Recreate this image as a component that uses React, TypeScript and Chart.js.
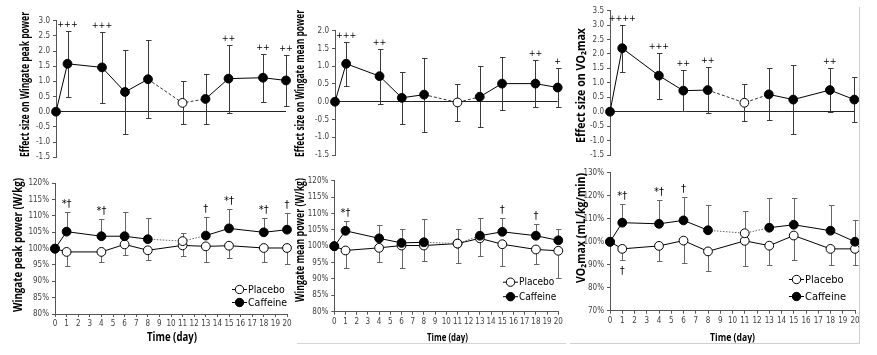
import React, { useEffect, useRef } from "react";
import { Chart, registerables } from "chart.js";

Chart.register(...registerables);

const FONT = "'DejaVu Sans Condensed', 'Liberation Sans Narrow', Lato, sans-serif";
const TITLE_FONT = "'Open Sans', 'DejaVu Sans', sans-serif";

// ---------- data ----------
const days = [0, 1, 4, 6, 8, 11, 13, 15, 18, 20];
const OPEN_DAY = 11;

// Effect sizes
const esPeakPower = [0, 1.58, 1.46, 0.65, 1.07, 0.29, 0.42, 1.09, 1.12, 1.03];
const esPeakPowerErr = [0, 1.08, 1.17, 1.38, 1.29, 0.71, 0.81, 1.12, 0.79, 0.85];
const esPeakPowerSig = ["", "+++", "+++", "", "", "", "", "++", "++", "++"];

const esMeanPower = [0, 1.07, 0.72, 0.11, 0.2, -0.02, 0.14, 0.51, 0.51, 0.4];
const esMeanPowerErr = [0, 0.62, 0.77, 0.73, 1.04, 0.53, 0.86, 0.74, 0.66, 0.56];
const esMeanPowerSig = ["", "+++", "++", "", "", "", "", "", "++", "+"];

const esVO2max = [0, 2.2, 1.25, 0.73, 0.75, 0.31, 0.6, 0.42, 0.75, 0.42];
const esVO2maxErr = [0, 0.82, 0.8, 0.71, 0.8, 0.64, 0.9, 1.2, 0.77, 0.79];
const esVO2maxSig = ["", "++++", "+++", "++", "++", "", "", "", "++", ""];

// Relative values (% of day 0)
const peakCaffeine = [100, 105.2, 103.8, 103.8, 102.9, 102.3, 104.0, 106.2, 105.0, 105.8];
const peakCaffeineSD = [0, 6.1, 5.3, 7.5, 6.4, 2.4, 5.6, 5.9, 4.3, 5.2];
const peakPlacebo = [100, 99.0, 99.0, 101.3, 99.5, 101.0, 100.7, 100.9, 100.2, 100.2];
const peakPlaceboSD = [0, 4.3, 3.0, 3.3, 3.0, 3.1, 4.7, 3.7, 4.2, 5.0];
const peakSig = ["", "*\u2020", "*\u2020", "", "", "", "\u2020", "*\u2020", "*\u2020", "\u2020"];

const meanCaffeine = [100, 104.7, 102.4, 101.0, 101.2, 100.8, 103.2, 104.4, 103.2, 101.8];
const meanCaffeineSD = [0, 3.1, 4.1, 4.4, 7.0, 4.3, 5.3, 4.3, 3.5, 3.6];
const meanPlacebo = [100, 98.7, 99.5, 100.2, 100.2, 100.8, 102.4, 100.6, 99.0, 98.6];
const meanPlaceboSD = [0, 5.3, 4.2, 7.0, 4.6, 6.0, 5.3, 6.7, 4.3, 8.3];
const meanSig = ["", "*\u2020", "", "", "", "", "", "\u2020", "\u2020", ""];

const vo2Caffeine = [100, 108.3, 107.8, 109.3, 105.0, 103.7, 106.1, 107.4, 104.8, 100.0];
const vo2CaffeineSD = [0, 8.3, 10.4, 10.3, 10.9, 9.8, 12.8, 11.8, 11.1, 9.6];
const vo2Placebo = [100, 96.9, 98.2, 100.5, 95.8, 100.4, 98.3, 102.7, 96.9, 96.9];
const vo2PlaceboSD = [0, 4.9, 6.6, 9.6, 8.7, 11.0, 8.3, 10.7, 6.9, 6.9];
const vo2SigAbove = ["", "*\u2020", "*\u2020", "\u2020", "", "", "", "", "", ""];
const vo2SigBelow = ["", "\u2020", "", "", "", "", "", "", "", ""];

const legendLabels = ["Placebo", "Caffeine"];
const xTitleText = "Time (day)";

// ---------- plugins ----------
const errorBars = {
  id: "errorBars",
  beforeDatasetsDraw(chart: any) {
    const { ctx } = chart;
    const xs = chart.scales.x;
    const ys = chart.scales.y;
    ctx.save();
    ctx.lineWidth = 1;
    chart.data.datasets.forEach((ds: any) => {
      if (!ds.errors) return;
      ctx.strokeStyle = ds.errColor || "#444";
      ds.data.forEach((p: any, i: number) => {
        const e = ds.errors[i];
        if (!e) return;
        const px = Math.round(xs.getPixelForValue(p.x)) + 0.5;
        const up = ds.errDir !== "down";
        const dn = ds.errDir !== "up";
        const yTop = Math.round(ys.getPixelForValue(up ? p.y + e : p.y)) + 0.5;
        const yBot = Math.round(ys.getPixelForValue(dn ? p.y - e : p.y)) + 0.5;
        ctx.beginPath();
        ctx.moveTo(px, yTop);
        ctx.lineTo(px, yBot);
        if (up) {
          ctx.moveTo(px - 2.5, yTop);
          ctx.lineTo(px + 3, yTop);
        }
        if (dn) {
          ctx.moveTo(px - 2.5, yBot);
          ctx.lineTo(px + 3, yBot);
        }
        ctx.stroke();
      });
    });
    ctx.restore();
  },
  afterDatasetsDraw(chart: any) {
    const { ctx } = chart;
    const xs = chart.scales.x;
    const ys = chart.scales.y;
    ctx.save();
    ctx.fillStyle = "#000";
    ctx.textAlign = "center";
    ctx.textBaseline = "alphabetic";
    chart.data.datasets.forEach((ds: any) => {
      ctx.font = `${ds.sigSize || 10}px ${FONT}`;
      ds.data.forEach((p: any, i: number) => {
        const px = xs.getPixelForValue(p.x);
        const e = ds.errors ? ds.errors[i] : 0;
        if (ds.sigAbove && ds.sigAbove[i]) {
          const top = ys.getPixelForValue(ds.errDir === "down" ? p.y : p.y + e);
          ctx.fillText(ds.sigAbove[i], px, top - ds.sigGap);
        }
        if (ds.sigBelow && ds.sigBelow[i]) {
          const bot = ys.getPixelForValue(ds.errDir === "up" ? p.y : p.y - e);
          ctx.fillText(ds.sigBelow[i], px, bot + ds.sigBelowGap);
        }
      });
    });
    ctx.restore();
  },
};

const miniLegend = {
  id: "miniLegend",
  afterDraw(chart: any, _a: any, opts: any) {
    if (!opts || !opts.show) return;
    const { ctx } = chart;
    ctx.save();
    legendLabels.forEach((label, k) => {
      const y = opts.y + k * opts.gap;
      ctx.strokeStyle = "#000";
      ctx.lineWidth = 1;
      ctx.beginPath();
      ctx.moveTo(opts.x, y + 0.5);
      ctx.lineTo(opts.x + opts.len, y + 0.5);
      ctx.stroke();
      ctx.beginPath();
      ctx.arc(opts.x + opts.len / 2, y + 0.5, 4.2, 0, Math.PI * 2);
      ctx.fillStyle = k === 0 ? "#fff" : "#000";
      ctx.fill();
      ctx.stroke();
      ctx.fillStyle = "#000";
      ctx.font = `${opts.size}px ${FONT}`;
      ctx.textAlign = "left";
      ctx.textBaseline = "middle";
      ctx.fillText(label, opts.x + opts.len + 1, y + 1);
    });
    ctx.restore();
  },
};

// axis titles drawn rotated, squeezed to the reference length
const axisTitles = {
  id: "axisTitles",
  afterDraw(chart: any, _a: any, opts: any) {
    const { ctx } = chart;
    ctx.save();
    ctx.fillStyle = "#000";
    ctx.textAlign = "center";
    ctx.textBaseline = "middle";
    if (opts.yText) {
      ctx.save();
      ctx.translate(opts.yx, opts.yy);
      ctx.rotate(-Math.PI / 2);
      ctx.font = `bold ${opts.ySize}px ${TITLE_FONT}`;
      ctx.fillText(opts.yText, 0, 0, opts.yLen);
      ctx.restore();
    }
    if (opts.xText) {
      ctx.font = `bold ${opts.xSize}px ${TITLE_FONT}`;
      ctx.fillText(opts.xText, opts.xx, opts.xy, opts.xLen);
    }
    ctx.restore();
  },
};

// ---------- panel specs ----------
type Series = {
  label: string;
  values: number[];
  err: number[];
  errDir: "both" | "up" | "down";
  errColor: string;
  openAll?: boolean;
  dashed?: boolean;
  dash?: number[];
  dashColor?: string;
  sigAbove?: string[];
  sigBelow?: string[];
  sigSize?: number;
  sigGap?: number;
  sigBelowGap?: number;
  order: number;
};

type Spec = {
  left: number;
  top: number;
  width: number;
  height: number;
  kind: "es" | "pct";
  yMin: number;
  yMax: number;
  yStep: number;
  yAxisWidth: number;
  padTop: number;
  padRight: number;
  padBottom: number;
  xAxisHeight?: number;
  titles: any;
  legend?: { x: number; y: number; gap: number; len: number; size: number };
  series: Series[];
};

const isOpenSeg = (c: any) => days[c.p0DataIndex] === OPEN_DAY || days[c.p1DataIndex] === OPEN_DAY;

function buildConfig(spec: Spec): any {
  const datasets = spec.series.map((s) => ({
    label: s.label,
    data: days.map((d, i) => ({ x: d, y: s.values[i] })),
    borderColor: "#000",
    borderWidth: 1,
    pointRadius: 4.4,
    pointHoverRadius: 4.4,
    pointBorderWidth: 1,
    pointBorderColor: "#000",
    pointBackgroundColor: days.map((d) => (s.openAll || d === OPEN_DAY ? "#fff" : "#000")),
    order: s.order,
    clip: false,
    segment: {
      borderDash: (c: any) => (s.dashed && isOpenSeg(c) ? s.dash : undefined),
      borderColor: (c: any) => (s.dashed && isOpenSeg(c) ? s.dashColor : undefined),
    },
    errors: s.err,
    errDir: s.errDir,
    errColor: s.errColor,
    sigAbove: s.sigAbove,
    sigBelow: s.sigBelow,
    sigSize: s.sigSize,
    sigGap: s.sigGap,
    sigBelowGap: s.sigBelowGap,
  }));

  const isPct = spec.kind === "pct";
  return {
    type: "line",
    data: { datasets },
    plugins: [errorBars, miniLegend, axisTitles],
    options: {
      responsive: false,
      animation: false,
      events: [],
      layout: {
        padding: { top: spec.padTop, right: spec.padRight, bottom: spec.padBottom, left: 0 },
      },
      plugins: {
        legend: { display: false },
        tooltip: { enabled: false },
        miniLegend: spec.legend ? { show: true, ...spec.legend } : { show: false },
        axisTitles: spec.titles,
      },
      scales: {
        x: {
          type: "linear",
          min: 0,
          max: 20,
          display: isPct,
          afterFit: (s: any) => {
            if (spec.xAxisHeight) s.height = spec.xAxisHeight;
          },
          border: { display: true, color: "#555" },
          grid: { drawOnChartArea: false, color: "#555", tickLength: 3 },
          ticks: {
            stepSize: 1,
            autoSkip: false,
            maxRotation: 0,
            padding: 2,
            color: "#404040",
            font: { family: FONT, size: 8 },
          },
          title: { display: false },
        },
        y: {
          type: "linear",
          min: spec.yMin,
          max: spec.yMax,
          afterFit: (s: any) => {
            s.width = spec.yAxisWidth;
          },
          border: { display: true, color: "#555" },
          grid: {
            drawOnChartArea: !isPct,
            color: (c: any) => (!isPct && c.tick && c.tick.value === 0 ? "#222" : "rgba(0,0,0,0)"),
            tickColor: "#555",
            tickLength: 3,
          },
          ticks: {
            stepSize: spec.yStep,
            autoSkip: false,
            padding: 3,
            color: "#404040",
            font: { family: FONT, size: 8 },
            callback: (v: any) => (isPct ? `${Math.round(v)}%` : Number(v).toFixed(1)),
          },
          title: { display: false },
        },
      },
    },
  };
}

function esSeries(values: number[], err: number[], sig: string[]): Series[] {
  return [
    {
      label: "Effect size",
      values,
      err,
      errDir: "both",
      errColor: "#3a3a3a",
      dashed: true,
      dash: [3, 2],
      dashColor: "#333",
      sigAbove: sig,
      sigSize: 9,
      sigGap: 4,
      order: 0,
    },
  ];
}

function pctSeries(
  caf: number[],
  cafSD: number[],
  pla: number[],
  plaSD: number[],
  sigAbove: string[],
  sigBelow?: string[]
): Series[] {
  return [
    {
      label: "Caffeine",
      values: caf,
      err: cafSD,
      errDir: "up",
      errColor: "#666",
      dashed: true,
      dash: [1.5, 1.5],
      dashColor: "#666",
      sigAbove,
      sigSize: 11,
      sigGap: 5,
      order: 0,
    },
    {
      label: "Placebo",
      values: pla,
      err: plaSD,
      errDir: "down",
      errColor: "#666",
      openAll: true,
      sigBelow,
      sigSize: 11,
      sigBelowGap: 14,
      order: 1,
    },
  ];
}

const specs: Spec[] = [
  {
    left: 0, top: 0, width: 295, height: 165, kind: "es",
    yMin: -1.5, yMax: 3.0, yStep: 0.5,
    yAxisWidth: 56, padTop: 20.7, padRight: 9, padBottom: 7,
    titles: { yText: "Effect size on Wingate peak power", yx: 25.5, yy: 84.5, ySize: 12, yLen: 145 },
    series: esSeries(esPeakPower, esPeakPowerErr, esPeakPowerSig),
  },
  {
    left: 292, top: 0, width: 280, height: 165, kind: "es",
    yMin: -1.5, yMax: 2.0, yStep: 0.5,
    yAxisWidth: 43, padTop: 30.7, padRight: 14.3, padBottom: 10,
    titles: { yText: "Effect size on Wingate mean power", yx: 8.5, yy: 83.5, ySize: 12, yLen: 147 },
    series: esSeries(esMeanPower, esMeanPowerErr, esMeanPowerSig),
  },
  {
    left: 575, top: 0, width: 290, height: 165, kind: "es",
    yMin: -1.5, yMax: 3.5, yStep: 0.5,
    yAxisWidth: 35, padTop: 10.7, padRight: 10.7, padBottom: 10,
    titles: { yText: "Effect size on VO\u2082max", yx: 7, yy: 85.5, ySize: 11.5, yLen: 115 },
    series: esSeries(esVO2max, esVO2maxErr, esVO2maxSig),
  },
  {
    left: 0, top: 168, width: 295, height: 187, kind: "pct",
    yMin: 80, yMax: 120, yStep: 5,
    yAxisWidth: 55, padTop: 15.3, padRight: 8, padBottom: 0,
    xAxisHeight: 41,
    titles: {
      yText: "Wingate peak power (W/kg)", yx: 18.5, yy: 77, ySize: 12.5, yLen: 134,
      xText: xTitleText, xx: 172, xy: 170, xSize: 12, xLen: 50,
    },
    legend: { x: 232, y: 121, gap: 13, len: 15, size: 10.5 },
    series: pctSeries(peakCaffeine, peakCaffeineSD, peakPlacebo, peakPlaceboSD, peakSig),
  },
  {
    left: 292, top: 168, width: 280, height: 187, kind: "pct",
    yMin: 80, yMax: 120, yStep: 5,
    yAxisWidth: 42.3, padTop: 12.7, padRight: 13.7, padBottom: 0,
    xAxisHeight: 43.3,
    titles: {
      yText: "Wingate mean power (W/kg)", yx: 8.5, yy: 72, ySize: 11.5, yLen: 124,
      xText: xTitleText, xx: 155.5, xy: 170, xSize: 10, xLen: 41,
    },
    legend: { x: 211, y: 113.7, gap: 14.5, len: 15, size: 10 },
    series: pctSeries(meanCaffeine, meanCaffeineSD, meanPlacebo, meanPlaceboSD, meanSig),
  },
  {
    left: 575, top: 165, width: 290, height: 190, kind: "pct",
    yMin: 70, yMax: 130, yStep: 10,
    yAxisWidth: 35, padTop: 6.7, padRight: 10, padBottom: 0,
    xAxisHeight: 44.3,
    titles: {
      yText: "VO\u2082max (mL/kg/min)", yx: 7, yy: 63, ySize: 11.5, yLen: 110,
      xText: xTitleText, xx: 157.5, xy: 172.7, xSize: 11, xLen: 45,
    },
    legend: { x: 214, y: 114, gap: 17, len: 15, size: 11 },
    series: pctSeries(vo2Caffeine, vo2CaffeineSD, vo2Placebo, vo2PlaceboSD, vo2SigAbove, vo2SigBelow),
  },
];

function Panel({ spec }: { spec: Spec }) {
  const ref = useRef<HTMLCanvasElement | null>(null);
  useEffect(() => {
    if (!ref.current) return;
    const chart = new Chart(ref.current, buildConfig(spec));
    return () => chart.destroy();
  }, [spec]);
  return (
    <div style={{ position: "absolute", left: spec.left, top: spec.top, width: spec.width, height: spec.height }}>
      <canvas ref={ref} width={spec.width} height={spec.height} style={{ display: "block" }} />
    </div>
  );
}

export default function App() {
  return (
    <div style={{ position: "fixed", left: 0, top: 0, width: 877, height: 355, background: "#fff", overflow: "hidden" }}>
      {specs.map((s, i) => (
        <Panel key={i} spec={s} />
      ))}
      <div style={{ position: "absolute", left: 297, top: 343, width: 269, height: 1, background: "#d4d4d4" }} />
      <div style={{ position: "absolute", left: 570, top: 343, width: 289, height: 1, background: "#cfcfcf" }} />
      <div style={{ position: "absolute", left: 859, top: 7, width: 1, height: 337, background: "#cfcfcf" }} />
    </div>
  );
}
